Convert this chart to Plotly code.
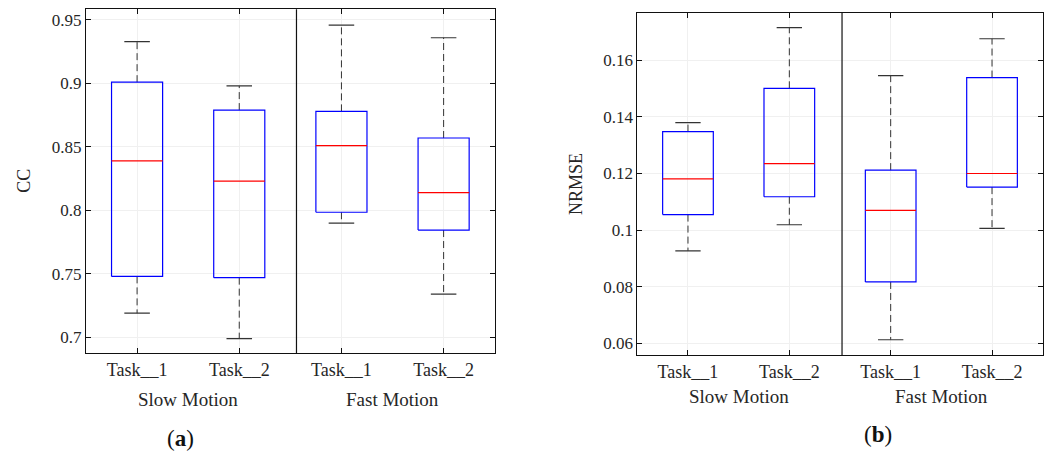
import plotly.graph_objects as go

# ---- data ----
categories = ["Task__1", "Task__2", "Task__1", "Task__2"]
groups = ["Slow Motion", "Fast Motion"]

cc_upper = [0.933, 0.898, 0.946, 0.936]
cc_q3 = [0.901, 0.879, 0.878, 0.857]
cc_median = [0.839, 0.823, 0.851, 0.814]
cc_q1 = [0.748, 0.747, 0.7985, 0.7845]
cc_lower = [0.719, 0.699, 0.790, 0.734]

nrmse_upper = [0.138, 0.1715, 0.1546, 0.1676]
nrmse_q3 = [0.1348, 0.1501, 0.1212, 0.1539]
nrmse_median = [0.1181, 0.1235, 0.107, 0.120]
nrmse_q1 = [0.1055, 0.1118, 0.0817, 0.1152]
nrmse_lower = [0.0927, 0.1019, 0.0613, 0.1006]

FONT = "Liberation Serif, Times New Roman, serif"
TXT = "#262626"
BOX_HALF = 0.25
CAP_HALF = 0.125

fig = go.Figure()


def add_boxes(lower, q1, med, q3, upper, xa, ya):
    pos = list(range(1, len(categories) + 1))
    bx, by, mx, my, wx, wy, cx, cy = [], [], [], [], [], [], [], []
    for p, lo, a, m, b, up in zip(pos, lower, q1, med, q3, upper):
        bx += [p - BOX_HALF, p + BOX_HALF, p + BOX_HALF, p - BOX_HALF, p - BOX_HALF, None]
        by += [a, a, b, b, a, None]
        mx += [p - BOX_HALF, p + BOX_HALF, None]
        my += [m, m, None]
        wx += [p, p, None, p, p, None]
        wy += [b, up, None, a, lo, None]
        cx += [p - CAP_HALF, p + CAP_HALF, None, p - CAP_HALF, p + CAP_HALF, None]
        cy += [up, up, None, lo, lo, None]
    common = dict(mode="lines", xaxis=xa, yaxis=ya, showlegend=False, hoverinfo="skip")
    fig.add_trace(go.Scatter(x=wx, y=wy, line=dict(color="#333333", width=1, dash="7px,4px"), **common))
    fig.add_trace(go.Scatter(x=cx, y=cy, line=dict(color="#333333", width=1.2), **common))
    fig.add_trace(go.Scatter(x=bx, y=by, line=dict(color="#0000ff", width=1.2), **common))
    fig.add_trace(go.Scatter(x=mx, y=my, line=dict(color="#ff0000", width=1.1), **common))


add_boxes(cc_lower, cc_q1, cc_median, cc_q3, cc_upper, "x", "y")
add_boxes(nrmse_lower, nrmse_q1, nrmse_median, nrmse_q3, nrmse_upper, "x2", "y2")

W, H = 1051, 454
pos = list(range(1, len(categories) + 1))

xcommon = dict(
    range=[0.5, 4.5], tickmode="array", tickvals=pos, ticktext=categories,
    showline=True, mirror="ticks", linecolor="#111111", linewidth=1,
    ticks="inside", ticklen=5, tickcolor="#111111", automargin=False,
    showgrid=True, gridcolor="#f0f0f0", gridwidth=1, zeroline=False,
    tickfont=dict(family=FONT, size=18, color=TXT),
)
ycommon = dict(
    showline=True, mirror="ticks", linecolor="#111111", linewidth=1,
    ticks="inside", ticklen=5, tickcolor="#111111", automargin=False,
    showgrid=True, gridcolor="#f0f0f0", gridwidth=1, zeroline=False,
    tickfont=dict(family=FONT, size=17, color=TXT),
)

fig.update_layout(
    width=W, height=H,
    margin=dict(l=0, r=0, t=0, b=0, autoexpand=False),
    paper_bgcolor="white", plot_bgcolor="white",
    xaxis=dict(domain=[86 / W, 494.7 / W], anchor="y", **xcommon),
    yaxis=dict(domain=[1 - 353.3 / H, 1 - 9.3 / H], anchor="x",
               range=[0.6874, 0.9584], tick0=0.7, dtick=0.05, **ycommon),
    xaxis2=dict(domain=[637.3 / W, 1042.7 / W], anchor="y2", **xcommon),
    yaxis2=dict(domain=[1 - 355.3 / H, 1 - 12.7 / H], anchor="x2",
                range=[0.0558, 0.1768], tick0=0.06, dtick=0.02, **ycommon),
)

# divider lines between the two groups
fig.add_shape(type="line", xref="x", yref="y domain", x0=2.56, x1=2.56, y0=0, y1=1,
              line=dict(color="#111111", width=1.2))
fig.add_shape(type="line", xref="x2", yref="y2 domain", x0=2.52, x1=2.52, y0=0, y1=1,
              line=dict(color="#111111", width=1.2))

# group labels
for xr, ypx in (("x", 399), ("x2", 396)):
    for gi, g in enumerate(groups):
        fig.add_annotation(x=1.5 + 2 * gi, xref=xr, y=1 - ypx / H, yref="paper",
                           text=g, showarrow=False, xanchor="center", yanchor="middle",
                           font=dict(family=FONT, size=19, color=TXT))

# y-axis titles
fig.add_annotation(x=24.5 / W, xref="paper", y=1 - 181.3 / H, yref="paper", text="CC",
                   textangle=-90, showarrow=False, xanchor="center", yanchor="middle",
                   font=dict(family=FONT, size=18, color=TXT))
fig.add_annotation(x=576 / W, xref="paper", y=1 - 184 / H, yref="paper", text="NRMSE",
                   textangle=-90, showarrow=False, xanchor="center", yanchor="middle",
                   font=dict(family=FONT, size=18, color=TXT))

# panel labels
fig.add_annotation(x=180 / W, xref="paper", y=1 - 438 / H, yref="paper", text="(<b>a</b>)",
                   showarrow=False, xanchor="center", yanchor="middle",
                   font=dict(family=FONT, size=23, color="#111111"))
fig.add_annotation(x=878 / W, xref="paper", y=1 - 434 / H, yref="paper", text="(<b>b</b>)",
                   showarrow=False, xanchor="center", yanchor="middle",
                   font=dict(family=FONT, size=23, color="#111111"))

fig.write_html("out.html", config={"displayModeBar": False},
               post_script="document.body.style.margin='0';document.body.style.overflow='hidden';")
